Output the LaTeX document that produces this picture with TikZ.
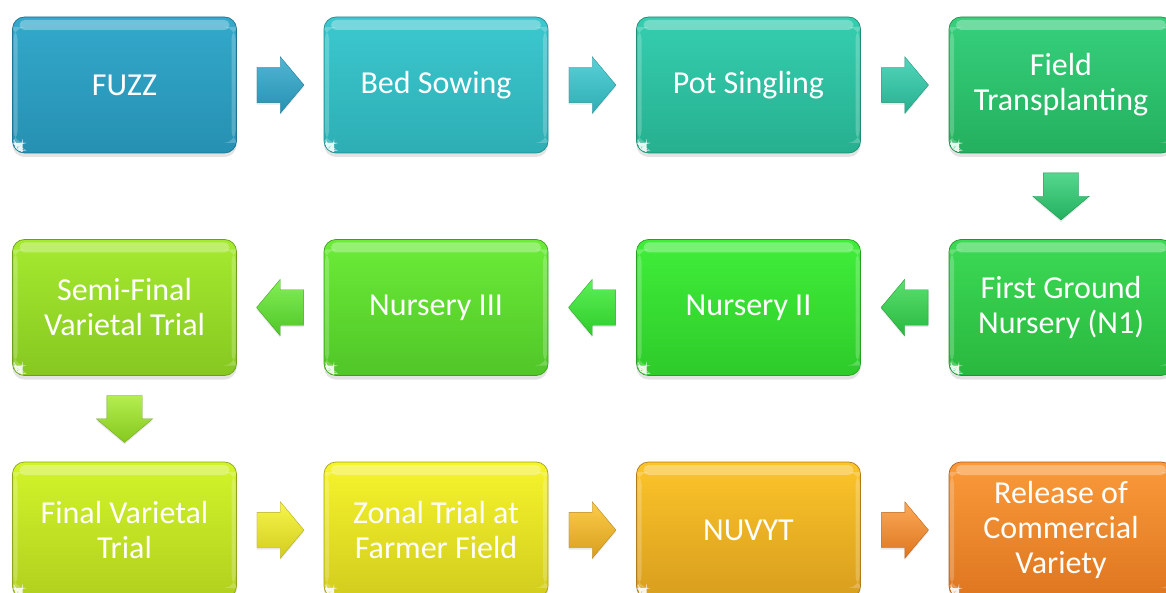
\documentclass[tikz,border=0pt]{standalone}
\usepackage{fontspec}
\setmainfont{Carlito}
\usetikzlibrary{shapes.arrows,shadows,calc}
\definecolor{cA}{HTML}{33A9CB}\definecolor{cAd}{HTML}{2690B2}
\definecolor{cB}{HTML}{3CC8CF}\definecolor{cBd}{HTML}{2DAEB4}
\definecolor{cC}{HTML}{35CEB0}\definecolor{cCd}{HTML}{26B08F}
\definecolor{cD}{HTML}{36D07C}\definecolor{cDd}{HTML}{24B05E}
\definecolor{cE}{HTML}{3CDA55}\definecolor{cEd}{HTML}{29B83F}
\definecolor{cF}{HTML}{40EE3A}\definecolor{cFd}{HTML}{2ECB2A}
\definecolor{cG}{HTML}{6CEC38}\definecolor{cGd}{HTML}{50C628}
\definecolor{cH}{HTML}{A6EA30}\definecolor{cHd}{HTML}{86C820}
\definecolor{cI}{HTML}{D2F42A}\definecolor{cId}{HTML}{B0D01E}
\definecolor{cJ}{HTML}{F6F42C}\definecolor{cJd}{HTML}{D2CC1E}
\definecolor{cK}{HTML}{FCC42A}\definecolor{cKd}{HTML}{D89E1E}
\definecolor{cL}{HTML}{FA9A3A}\definecolor{cLd}{HTML}{DE7620}
\tikzset{
  x=1pt, y=1pt,
  box/.style 2 args={rectangle, rounded corners=12pt, minimum width=224pt, minimum height=136pt,
    top color=#1, bottom color=#2, draw=#2!80!black, line width=0.7pt,
    text=white, align=center, font=\fontsize{32}{35}\selectfont,
    drop shadow={opacity=0.22, shadow xshift=0pt, shadow yshift=-4pt},
    path picture={
      \fill[white, opacity=0.30, rounded corners=5pt]
        ([xshift=7pt,yshift=-3pt]path picture bounding box.north west) rectangle
        ([xshift=-7pt,yshift=-13pt]path picture bounding box.north east);
      \fill[white, opacity=0.22]
        ([xshift=1pt,yshift=-10pt]path picture bounding box.north west) rectangle
        ([xshift=5pt,yshift=10pt]path picture bounding box.south west);
      \fill[white, opacity=0.22]
        ([xshift=-1pt,yshift=-10pt]path picture bounding box.north east) rectangle
        ([xshift=-5pt,yshift=10pt]path picture bounding box.south east);
      \fill[white, opacity=0.9]
        ([xshift=2pt,yshift=2pt]path picture bounding box.south west) --
        ([xshift=10pt,yshift=2pt]path picture bounding box.south west) --
        ([xshift=10pt,yshift=5pt]path picture bounding box.south west) --
        ([xshift=4pt,yshift=10pt]path picture bounding box.south west) --
        ([xshift=2pt,yshift=10pt]path picture bounding box.south west) -- cycle;
    }},
  barrow/.style 2 args={single arrow, minimum height=47pt, minimum width=0pt,
    single arrow head extend=10.5pt, single arrow tip angle=100,
    text height=0pt, text depth=0pt, text width=0pt, anchor=tail,
    top color=#1, bottom color=#2, draw=#2!85!black, line width=0.4pt,
    drop shadow={opacity=0.18, shadow xshift=0pt, shadow yshift=-2pt}},
  rgt/.style={inner xsep=0pt, inner ysep=17.5pt, xshift=-23.5pt},
  lft/.style={shape border rotate=180, inner xsep=0pt, inner ysep=17.5pt, xshift=23.5pt},
  dwn/.style={shape border rotate=270, inner xsep=17.5pt, inner ysep=0pt, yshift=23.5pt},
}
\begin{document}
\begin{tikzpicture}
\clip (0,0) rectangle (1166,-593);
\fill[white] (0,0) rectangle (1166,-593);
% row 1
\node[box={cA}{cAd}] (fuzz)    at (124.5,-85) {FUZZ};
\node[box={cB}{cBd}] (bed)     at (436,-85)   {Bed Sowing};
\node[box={cC}{cCd}] (pot)     at (748.5,-85) {Pot Singling};
\node[box={cD}{cDd}] (field)   at (1061,-85)  {Field\\Transplanting};
% row 2
\node[box={cE}{cEd}] (n1)      at (1061,-307.5)  {First Ground\\Nursery (N1)};
\node[box={cF}{cFd}] (n2)      at (748.5,-307.5) {Nursery II};
\node[box={cG}{cGd}] (n3)      at (436,-307.5)   {Nursery III};
\node[box={cH}{cHd}] (semi)    at (124.5,-307.5) {Semi-Final\\Varietal Trial};
% row 3
\node[box={cI}{cId}] (final)   at (124.5,-530) {Final Varietal\\Trial};
\node[box={cJ}{cJd}] (zonal)   at (436,-530)   {Zonal Trial at\\Farmer Field};
\node[box={cK}{cKd}] (nuvyt)   at (748.5,-530) {NUVYT};
\node[box={cL}{cLd}] (release) at (1061,-530)  {Release of\\Commercial\\Variety};
% arrows
\node[barrow={cA!85!white}{cAd}, rgt] (a1) at ($(fuzz.east)!0.5!(bed.west)$) {};
\node[barrow={cB!85!white}{cBd}, rgt] (a2) at ($(bed.east)!0.5!(pot.west)$) {};
\node[barrow={cC!85!white}{cCd}, rgt] (a3) at ($(pot.east)!0.5!(field.west)$) {};
\node[barrow={cD!85!white}{cDd}, dwn] (a4) at ($(field.south)!0.5!(n1.north)$) {};
\node[barrow={cE!85!white}{cEd}, lft] (a5) at ($(n1.west)!0.5!(n2.east)$) {};
\node[barrow={cF!85!white}{cFd}, lft] (a6) at ($(n2.west)!0.5!(n3.east)$) {};
\node[barrow={cG!85!white}{cGd}, lft] (a7) at ($(n3.west)!0.5!(semi.east)$) {};
\node[barrow={cH!85!white}{cHd}, dwn] (a8) at ($(semi.south)!0.5!(final.north)$) {};
\node[barrow={cJ!85!white}{cJd}, rgt] (a9) at ($(final.east)!0.5!(zonal.west)$) {};
\node[barrow={cK!85!white}{cKd}, rgt] (a10) at ($(zonal.east)!0.5!(nuvyt.west)$) {};
\node[barrow={cL!85!white}{cLd}, rgt] (a11) at ($(nuvyt.east)!0.5!(release.west)$) {};
\end{tikzpicture}
\end{document}
